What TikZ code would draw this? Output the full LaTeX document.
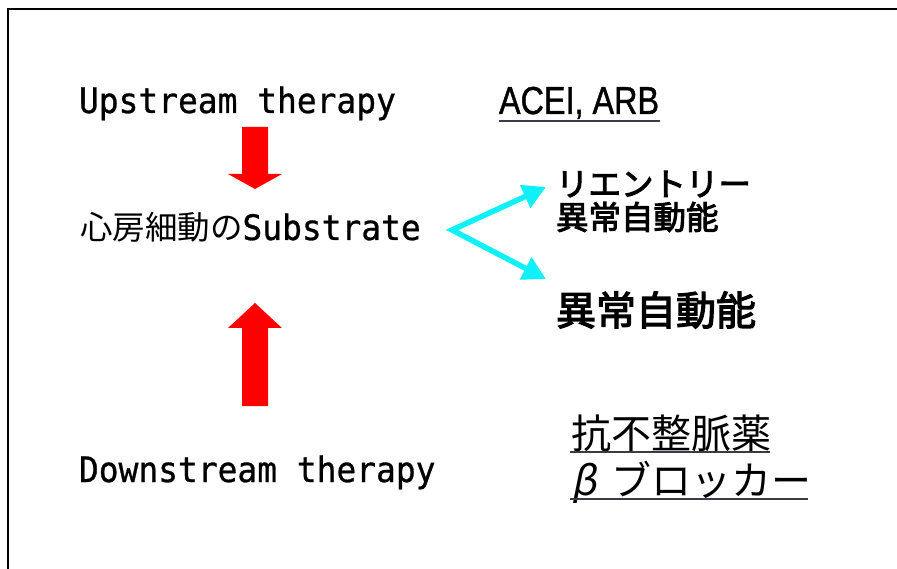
\documentclass[tikz,border=0pt]{standalone}
\usepackage{fontspec}
\usetikzlibrary{arrows.meta}
\newfontfamily\jpfont{Noto Sans CJK JP}
\newfontfamily\jpmed[FakeBold=3]{Noto Sans CJK JP}
\newfontfamily\monof[FakeStretch=0.94,FakeBold=0.8]{DejaVu Sans Mono}
\newfontfamily\narrowf[FakeStretch=0.83,FakeBold=1]{Liberation Sans}
\definecolor{ulcol}{HTML}{3A3A48}
\definecolor{arrcyan}{HTML}{10F0F8}
\tikzset{
  lbl/.style={inner sep=0pt, outer sep=0pt, text=black},
  monotxt/.style={lbl, font=\monof\fontsize{35}{40}\selectfont},
  jpsmall/.style={lbl, font=\jpmed\fontsize{32.5}{38}\selectfont},
  jpbig/.style={lbl, font=\jpmed\fontsize{40}{46}\selectfont},
  jpreg/.style={lbl, font=\jpfont\fontsize{40}{46}\selectfont},
  narrowtxt/.style={lbl, font=\narrowf\fontsize{39}{44}\selectfont},
  uline/.style={draw=ulcol, line width=2pt},
  redarrow/.style={fill=red, draw=none},
  cyanarrow/.style={draw=arrcyan, line width=5.5pt, line join=miter,
    {Triangle[length=23pt,width=24pt]}-{Triangle[length=23pt,width=24pt]}},
  frameline/.style={draw=black, line width=2pt}
}
\begin{document}
\begin{tikzpicture}[x=1pt,y=-1pt]
\useasboundingbox (0,0) rectangle (897,569);
% frame (left and top)
\draw[frameline] (8,569) -- (8,9) -- (897,9);
% texts
\node[monotxt, anchor=base west] (up) at (79,113) {Upstream therapy};
\node[monotxt, anchor=base west] (down) at (79,482) {Downstream therapy};
\node[lbl, anchor=base west] (sub) at (80,240)
  {{\jpfont\fontsize{32.5}{38}\selectfont 心房細動の}{\monof\fontsize{35}{38}\selectfont Substrate}};
\node[narrowtxt, anchor=base west] (acei) at (499,114) {ACEI, ARB};
\node[jpsmall, anchor=west] (reent) at (556,184) {リエントリー};
\node[jpsmall, anchor=west] (ab1) at (556,217) {異常自動能};
\node[jpbig, anchor=west] (ab2) at (556,310) {異常自動能};
\node[jpreg, anchor=west] (anti) at (571,433) {抗不整脈薬};
\node[jpreg, anchor=west] (beta) at (571,482) {\makebox[1em][l]{\addfontfeature{FakeSlant=0.2}β}ブロッカー};
% underlines
\draw[uline] (acei.south west |- 0,121) -- (660,121);
\draw[uline] (570,452) -- (770,452);
\draw[uline] (570,499) -- (808,499);
% red block arrows
\fill[redarrow] (242,127) -- (268,127) -- (268,174) -- (282,174) -- (255,189)
  -- (228,174) -- (242,174) -- cycle;
\fill[redarrow] (242,406) -- (268,406) -- (268,328) -- (282,328) -- (255,303)
  -- (228,328) -- (242,328) -- cycle;
% cyan branching arrow
\coordinate (v) at (452,230);
\coordinate (t1) at (546,187);
\coordinate (t2) at (546,279);
\draw[cyanarrow] (t1) -- (v) -- (t2);
\end{tikzpicture}
\end{document}
